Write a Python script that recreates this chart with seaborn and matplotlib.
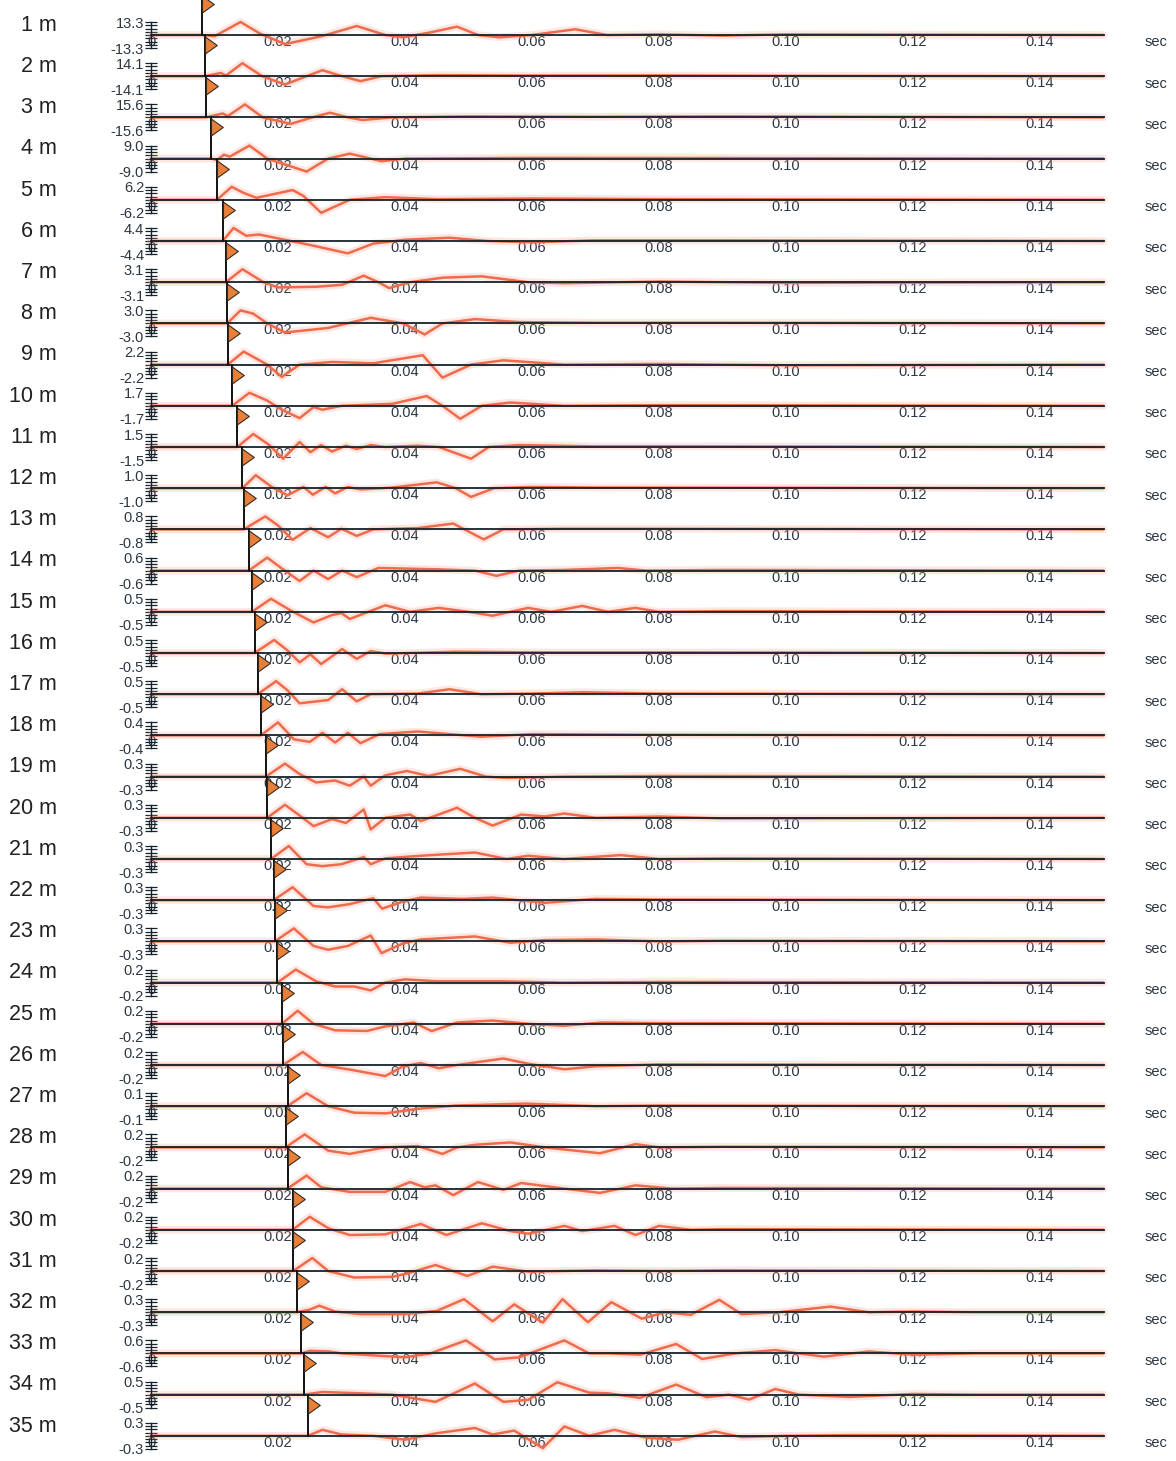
import numpy as np
import pandas as pd
import matplotlib
matplotlib.use("Agg")
import matplotlib.pyplot as plt
import seaborn as sns
from matplotlib.path import Path
from matplotlib.markers import MarkerStyle

# ---------------- data ----------------
depths_m = list(range(1, 36))
peak_amplitude = [13.3, 14.1, 15.6, 9.0, 6.2, 4.4, 3.1, 3.0, 2.2, 1.7, 1.5, 1.0, 0.8,
                  0.6, 0.5, 0.5, 0.5, 0.4, 0.3, 0.3, 0.3, 0.3, 0.3, 0.2, 0.2, 0.2,
                  0.1, 0.2, 0.2, 0.2, 0.2, 0.3, 0.6, 0.5, 0.3]
pick_time_s = [0.0081, 0.0085, 0.0086, 0.0094, 0.0104, 0.0113, 0.0118, 0.0120, 0.0121,
               0.0128, 0.0136, 0.0144, 0.0146, 0.0154, 0.0159, 0.0163, 0.0168, 0.0173,
               0.0181, 0.0183, 0.0189, 0.0193, 0.0195, 0.0199, 0.0206, 0.0208, 0.0215,
               0.0212, 0.0215, 0.0223, 0.0224, 0.0230, 0.0237, 0.0241, 0.0247]
time_ticks = [0.0, 0.02, 0.04, 0.06, 0.08, 0.10, 0.12, 0.14]
time_tick_labels = ["0", "0.02", "0.04", "0.06", "0.08", "0.10", "0.12", "0.14"]
time_unit = "sec"

# waveform keypoints: (time s, amplitude relative to the trace's peak value)
wave_01 = [(0, 0), (0.0081, 0), (0.0100, -0.1), (0.0141, 1.0), (0.0172, 0.1), (0.0211, -0.7),
           (0.0268, -0.1), (0.0324, 0.69), (0.0369, 0), (0.0397, -0.18), (0.0440, 0.2),
           (0.0482, 0.64), (0.0515, 0), (0.0549, -0.18), (0.0600, 0), (0.0668, 0.44),
           (0.0718, 0), (0.080, 0.05), (0.090, -0.05), (0.100, 0.05), (0.150, 0)]
wave_02 = [(0, 0), (0.0085, 0), (0.0110, 0.25), (0.0118, 0.05), (0.0144, 1.0), (0.0175, 0),
           (0.0211, -0.64), (0.0245, 0), (0.0270, 0.46), (0.0301, 0), (0.0330, -0.38),
           (0.0363, 0), (0.045, 0.08), (0.060, 0.05), (0.080, 0.06), (0.100, 0.03), (0.150, 0)]
wave_03 = [(0, 0), (0.0086, 0), (0.0113, 0.3), (0.0121, 0.1), (0.0148, 1.0), (0.0176, 0.0),
           (0.0220, -0.5), (0.0254, 0), (0.0282, 0.36), (0.0310, 0), (0.0333, -0.2),
           (0.0380, 0), (0.050, 0.08), (0.070, 0.05), (0.090, 0.08), (0.150, 0)]
wave_04 = [(0, 0), (0.0094, 0), (0.0104, -0.1), (0.0115, 0.3), (0.0124, 0.15), (0.0155, 1.0),
           (0.0183, 0), (0.0245, -1.0), (0.0279, 0), (0.0313, 0.38), (0.0346, 0),
           (0.0363, -0.2), (0.040, 0), (0.060, 0.06), (0.080, 0.05), (0.150, 0)]
wave_05 = [(0, 0), (0.0104, 0), (0.0127, 1.0), (0.0145, 0.55), (0.0166, 0.15), (0.0223, 0.75),
           (0.0240, 0.3), (0.0268, -1.0), (0.0313, 0), (0.0369, 0.2), (0.045, 0.05),
           (0.060, 0.1), (0.080, 0.05), (0.150, 0)]
wave_06 = [(0, 0), (0.0113, 0), (0.0130, 1.0), (0.0150, 0.4), (0.0170, 0.5), (0.0200, 0.2),
           (0.0250, -0.3), (0.0310, -0.95), (0.0350, -0.2), (0.0400, 0.1), (0.0470, 0.25),
           (0.0530, 0), (0.060, -0.1), (0.070, 0.05), (0.090, 0.05), (0.150, 0)]
wave_07 = [(0, 0), (0.0118, 0), (0.0144, 1.0), (0.0177, 0), (0.0200, -0.4), (0.0260, -0.35),
           (0.0301, -0.2), (0.0335, 0.5), (0.0358, 0), (0.0375, -0.45), (0.0408, 0),
           (0.0460, 0.35), (0.0521, 0.45), (0.0594, 0), (0.065, -0.08), (0.080, 0.05),
           (0.100, -0.05), (0.150, 0)]
wave_08 = [(0, 0), (0.0120, 0), (0.0141, 1.0), (0.0161, 0.75), (0.0183, 0), (0.0211, -0.7),
           (0.0279, -0.35), (0.0346, 0.43), (0.0397, 0), (0.0431, -0.85), (0.0459, 0),
           (0.0510, 0.33), (0.058, 0.1), (0.070, 0.05), (0.090, 0.05), (0.150, 0)]
wave_09 = [(0, 0), (0.0121, 0), (0.0146, 1.0), (0.0183, 0), (0.0206, -0.95), (0.0234, 0),
           (0.0285, 0.2), (0.0350, 0.1), (0.0428, 0.72), (0.0459, -1.0), (0.0504, 0),
           (0.0555, 0.33), (0.0651, 0), (0.080, 0.05), (0.100, -0.05), (0.150, 0)]
wave_10 = [(0, 0), (0.0128, 0), (0.0155, 1.0), (0.0183, 0.4), (0.0206, -0.3), (0.0234, -0.95),
           (0.0256, -0.1), (0.0270, -0.3), (0.0300, 0), (0.0380, 0.15), (0.0434, 0.75),
           (0.0459, 0), (0.0487, -1.0), (0.0521, 0), (0.0566, 0.25), (0.065, 0),
           (0.080, 0.05), (0.150, 0)]
wave_11 = [(0, 0), (0.0136, 0), (0.0161, 1.0), (0.0185, 0.2), (0.0208, -0.9), (0.0234, 0.38),
           (0.0251, -0.4), (0.0268, 0.15), (0.0285, -0.35), (0.0307, 0.1), (0.0324, -0.15),
           (0.0346, 0.15), (0.0369, 0), (0.0420, 0.1), (0.0453, 0), (0.0504, -0.9),
           (0.0532, 0), (0.0580, 0.15), (0.070, 0.05), (0.085, 0.05), (0.150, 0)]
wave_12 = [(0, 0), (0.0144, 0), (0.0165, 1.0), (0.0190, 0.1), (0.0215, -0.55), (0.0240, 0.1),
           (0.0255, -0.5), (0.0275, 0.1), (0.0290, -0.4), (0.0310, 0.1), (0.0330, -0.1),
           (0.0380, 0.05), (0.0450, 0.45), (0.0480, 0), (0.0504, -0.67), (0.0540, 0),
           (0.060, 0.1), (0.070, 0.05), (0.150, 0)]
wave_13 = [(0, 0), (0.0146, 0), (0.0180, 1.0), (0.0200, 0.3), (0.0223, -0.8), (0.0251, 0.1),
           (0.0279, -0.6), (0.0300, 0.05), (0.0324, -0.5), (0.0350, 0), (0.0420, 0.1),
           (0.0476, 0.45), (0.0524, -0.77), (0.0555, 0), (0.065, 0.05), (0.080, 0.05),
           (0.150, 0)]
wave_14 = [(0, 0), (0.0154, 0), (0.0183, 1.0), (0.0205, 0.2), (0.0234, -0.8), (0.0256, 0),
           (0.0279, -0.65), (0.0301, 0), (0.0324, -0.5), (0.0358, 0.2), (0.0450, 0.1),
           (0.0510, 0), (0.0544, -0.4), (0.0580, 0), (0.065, 0.05), (0.0735, 0.2),
           (0.078, 0), (0.090, 0.05), (0.150, 0)]
wave_15 = [(0, 0), (0.0159, 0), (0.0189, 1.0), (0.0220, 0.1), (0.0256, -0.82), (0.0285, -0.25),
           (0.0300, -0.1), (0.0313, -0.55), (0.0369, 0.5), (0.0408, 0), (0.0453, 0.3),
           (0.0500, 0), (0.0538, -0.3), (0.0594, 0.3), (0.0630, 0), (0.0679, 0.45),
           (0.0720, 0), (0.0763, 0.3), (0.080, 0), (0.090, 0.05), (0.150, 0)]
wave_16 = [(0, 0), (0.0163, 0), (0.0194, 1.0), (0.0215, 0.2), (0.0234, -0.72), (0.0251, -0.1),
           (0.0268, -0.85), (0.0301, 0.3), (0.0324, -0.45), (0.0346, 0.15), (0.0370, -0.05),
           (0.0480, 0.1), (0.060, 0.05), (0.080, 0.05), (0.150, 0)]
wave_17 = [(0, 0), (0.0168, 0), (0.0197, 1.0), (0.0215, 0.3), (0.0234, -0.7), (0.0279, -0.45),
           (0.0301, 0.38), (0.0324, -0.55), (0.0346, 0), (0.0420, 0.05), (0.0470, 0.38),
           (0.0520, 0), (0.060, 0.05), (0.068, 0.15), (0.080, 0.05), (0.150, 0)]
wave_18 = [(0, 0), (0.0173, 0), (0.0200, 1.0), (0.0225, -0.3), (0.0250, -0.5), (0.0270, 0.2),
           (0.0290, -0.55), (0.0310, 0.2), (0.0330, -0.6), (0.0360, 0.1), (0.0420, 0.3),
           (0.0470, 0.1), (0.0520, -0.1), (0.060, 0.1), (0.080, 0.05), (0.150, 0)]
wave_19 = [(0, 0), (0.0181, 0), (0.0211, 1.0), (0.0234, 0.2), (0.0260, -0.45), (0.0290, -0.3),
           (0.0313, -0.7), (0.0335, 0), (0.0346, -0.7), (0.0369, 0.1), (0.0403, 0.43),
           (0.0437, 0.05), (0.0487, 0.6), (0.0527, 0), (0.056, -0.1), (0.065, 0),
           (0.080, 0.05), (0.150, 0)]
wave_20 = [(0, 0), (0.0183, 0), (0.0211, 1.0), (0.0239, 0), (0.0256, -0.64), (0.0285, -0.1),
           (0.0307, -0.4), (0.0335, 0.64), (0.0346, -0.9), (0.0369, 0), (0.0408, 0.25),
           (0.0425, -0.25), (0.0482, 0.77), (0.0510, 0), (0.0538, -0.6), (0.0583, 0.25),
           (0.0620, 0.1), (0.0651, 0.33), (0.070, 0), (0.080, 0.1), (0.090, -0.05), (0.150, 0)]
wave_21 = [(0, 0), (0.0189, 0), (0.0217, 1.0), (0.0245, -0.4), (0.0270, -0.55), (0.0300, -0.4),
           (0.0335, 0.15), (0.0346, -0.4), (0.0369, 0.05), (0.0425, 0.25), (0.0510, 0.5),
           (0.0560, 0), (0.0594, 0.25), (0.0650, 0), (0.0740, 0.3), (0.080, 0),
           (0.090, 0.05), (0.150, 0)]
wave_22 = [(0, 0), (0.0193, 0), (0.0223, 1.0), (0.0256, -0.45), (0.0279, -0.55), (0.0313, -0.3),
           (0.0350, 0.15), (0.0364, -0.65), (0.0397, -0.1), (0.0425, 0.2), (0.0490, 0.1),
           (0.0538, 0.2), (0.0620, -0.2), (0.0700, 0.1), (0.080, 0.05), (0.150, 0)]
wave_23 = [(0, 0), (0.0195, 0), (0.0225, 1.0), (0.0256, -0.35), (0.0279, -0.64), (0.0310, -0.35),
           (0.0346, 0.45), (0.0363, -0.9), (0.0397, -0.15), (0.0425, 0.15), (0.0510, 0.38),
           (0.0566, -0.1), (0.0620, 0.1), (0.0700, 0.15), (0.080, 0.0), (0.090, 0.05),
           (0.150, 0)]
wave_24 = [(0, 0), (0.0199, 0), (0.0228, 1.0), (0.0260, 0.1), (0.0290, -0.3), (0.0320, -0.3),
           (0.0346, -0.6), (0.0369, 0), (0.0400, 0.25), (0.0450, 0.1), (0.0550, 0.1),
           (0.065, 0), (0.080, 0.05), (0.150, 0)]
wave_25 = [(0, 0), (0.0206, 0), (0.0231, 1.0), (0.0256, 0), (0.0290, -0.5), (0.0340, -0.55),
           (0.0369, -0.2), (0.0414, 0.1), (0.0442, -0.56), (0.0482, 0.1), (0.0538, 0.25),
           (0.0594, 0), (0.0650, -0.15), (0.0710, 0.1), (0.080, 0.05), (0.150, 0)]
wave_26 = [(0, 0), (0.0208, 0), (0.0239, 1.0), (0.0268, 0), (0.0313, -0.35), (0.0369, -0.85),
           (0.0397, -0.1), (0.0425, 0.15), (0.0453, -0.25), (0.0482, 0), (0.0555, 0.5),
           (0.0594, 0.1), (0.0651, -0.33), (0.0700, -0.1), (0.080, 0.05), (0.150, 0)]
wave_27 = [(0, 0), (0.0215, 0), (0.0245, 1.0), (0.0279, 0), (0.0320, -0.5), (0.0370, -0.55),
           (0.0420, -0.2), (0.0480, 0.05), (0.0590, 0.2), (0.0700, 0), (0.080, 0.05), (0.150, 0)]
wave_28 = [(0, 0), (0.0212, 0), (0.0242, 1.0), (0.0279, -0.25), (0.0313, -0.5), (0.0340, -0.25),
           (0.0369, 0), (0.0420, 0.1), (0.0459, -0.5), (0.0482, 0), (0.0510, 0.2),
           (0.0566, 0.38), (0.0620, 0), (0.0707, -0.45), (0.0763, 0.25), (0.080, 0),
           (0.090, 0.05), (0.150, 0)]
wave_29 = [(0, 0), (0.0215, 0), (0.0245, 1.0), (0.0268, 0.1), (0.0313, -0.25), (0.0369, -0.25),
           (0.0408, 0.5), (0.0431, 0.1), (0.0448, 0.25), (0.0476, -0.5), (0.0515, 0.5),
           (0.0555, -0.1), (0.0583, 0.43), (0.0651, 0), (0.0707, -0.33), (0.0763, 0.25),
           (0.082, 0), (0.090, 0.05), (0.150, 0)]
wave_30 = [(0, 0), (0.0223, 0), (0.0250, 1.0), (0.0280, 0.1), (0.0313, -0.4), (0.0369, -0.35),
           (0.0425, 0.45), (0.0465, -0.4), (0.0521, 0.5), (0.0566, -0.1), (0.0594, -0.3),
           (0.0651, 0.3), (0.0679, -0.1), (0.0730, 0.3), (0.0763, -0.4), (0.0800, 0.3),
           (0.085, 0), (0.090, 0.05), (0.150, 0)]
wave_31 = [(0, 0), (0.0224, 0), (0.0254, 1.0), (0.0279, 0), (0.0320, -0.5), (0.0380, -0.45),
           (0.0403, -0.2), (0.0448, 0.46), (0.0498, -0.38), (0.0538, 0.33), (0.0594, -0.05),
           (0.070, 0.05), (0.080, 0), (0.090, 0.05), (0.150, 0)]
wave_32 = [(0, 0), (0.0230, 0), (0.0250, 0.2), (0.0265, 0.5), (0.0290, 0.05), (0.0330, -0.15),
           (0.0400, -0.15), (0.0450, 0.1), (0.0493, 1.0), (0.0538, -0.7), (0.0572, 0.6),
           (0.0617, -0.8), (0.0648, 1.0), (0.0688, -0.77), (0.0725, 0.77), (0.0773, -0.5),
           (0.0810, 0.0), (0.0850, -0.2), (0.0895, 0.95), (0.0930, -0.15), (0.0990, 0),
           (0.1070, 0.43), (0.1130, 0), (0.120, 0.05), (0.130, 0), (0.150, 0)]
wave_33 = [(0, 0), (0.0237, 0), (0.0250, 0.2), (0.0280, 0.15), (0.0300, 0), (0.0400, -0.3),
           (0.0440, 0), (0.0496, 1.0), (0.0541, -0.46), (0.0580, -0.3), (0.0651, 1.0),
           (0.0690, 0), (0.0720, 0), (0.0770, -0.1), (0.0827, 0.72), (0.0868, -0.43),
           (0.0920, 0), (0.0983, 0.25), (0.1020, 0), (0.1060, -0.25), (0.1130, 0.15),
           (0.1200, -0.1), (0.130, 0), (0.150, 0)]
wave_34 = [(0, 0), (0.0241, 0), (0.0270, 0.2), (0.0330, 0.1), (0.0380, 0), (0.0448, -0.56),
           (0.0510, 0.85), (0.0555, -0.56), (0.0594, -0.4), (0.0640, 0.95), (0.0690, 0.15),
           (0.0720, 0.1), (0.0770, -0.25), (0.0827, 0.77), (0.0875, -0.2), (0.0910, 0),
           (0.0942, -0.38), (0.0983, 0.43), (0.1020, 0), (0.1100, -0.18), (0.1200, 0.05),
           (0.130, 0), (0.150, 0)]
wave_35 = [(0, 0), (0.0247, 0), (0.0270, 0.46), (0.0300, 0.1), (0.0350, 0), (0.0400, -0.3),
           (0.0450, 0.2), (0.0510, 0.6), (0.0538, 0.1), (0.0572, 0.4), (0.0617, -0.95),
           (0.0651, 0.72), (0.0690, 0), (0.0730, 0.46), (0.0780, -0.15), (0.0830, -0.3),
           (0.0888, 0.33), (0.0930, -0.1), (0.1000, 0), (0.110, 0.05), (0.150, 0)]

waves = [wave_01, wave_02, wave_03, wave_04, wave_05, wave_06, wave_07, wave_08, wave_09,
         wave_10, wave_11, wave_12, wave_13, wave_14, wave_15, wave_16, wave_17, wave_18,
         wave_19, wave_20, wave_21, wave_22, wave_23, wave_24, wave_25, wave_26, wave_27,
         wave_28, wave_29, wave_30, wave_31, wave_32, wave_33, wave_34, wave_35]

# ---------------- style / layout ----------------
sns.set_theme(style="white")
plt.rcParams["font.family"] = ["Liberation Sans", "DejaVu Sans"]
plt.rcParams["axes.unicode_minus"] = False

W, H, DPI = 1176, 1461, 100
ROW0, ROW_STEP, HALF = 35.0, 41.2, 13.0   # px
X0, X1 = 151.0, 1103.5                     # px of t=0 and t=0.15
TICK_COLOR = "#2b3642"
WAVE_COLOR = "#ee6b4b"
HALO_COLOR = "#f5a08c"
AXIS_COLOR = "#15222a"
FLAG_FILL = "#e9803a"
TICK_FS = 10.5

tri_path = Path([(0, -1), (1.4, 0), (0, 1), (0, -1)],
                [Path.MOVETO, Path.LINETO, Path.LINETO, Path.CLOSEPOLY])
tri_marker = MarkerStyle(tri_path)

fig = plt.figure(figsize=(W / DPI, H / DPI), dpi=DPI)
fig.patch.set_facecolor("white")

for i, (depth, peak, pick, wave) in enumerate(zip(depths_m, peak_amplitude, pick_time_s, waves)):
    b = ROW0 + ROW_STEP * i
    ax = fig.add_axes([X0 / W, 1 - (b + HALF) / H, (X1 - X0) / W, 2 * HALF / H])
    ax.patch.set_visible(False)

    df = pd.DataFrame(wave, columns=["t", "rel"])
    df["amp"] = df["rel"] * peak
    sns.lineplot(data=df, x="t", y="amp", ax=ax, color=HALO_COLOR, linewidth=5.5,
                 alpha=0.25, sort=False, estimator=None, legend=False)
    sns.lineplot(data=df, x="t", y="amp", ax=ax, color=WAVE_COLOR, linewidth=1.8,
                 sort=False, estimator=None, legend=False)
    for ln in ax.lines:
        ln.set_clip_on(False)
        ln.set_solid_joinstyle("round")
        ln.set_solid_capstyle("round")

    ax.set_xlim(0, 0.15)
    ax.set_ylim(-peak, peak)
    ax.set_xlabel("")
    ax.set_ylabel("")

    for s in ("top", "right"):
        ax.spines[s].set_visible(False)
    ax.spines["bottom"].set_position("zero")
    ax.spines["bottom"].set_color(AXIS_COLOR)
    ax.spines["bottom"].set_linewidth(1.3)
    ax.spines["bottom"].set_zorder(3)
    ax.spines["left"].set_color(AXIS_COLOR)
    ax.spines["left"].set_linewidth(1.0)

    ax.set_xticks(time_ticks)
    ax.set_xticklabels(time_tick_labels)
    ax.tick_params(axis="x", length=0, pad=0.0, labelsize=TICK_FS, labelcolor=TICK_COLOR)

    ax.set_yticks([-peak, peak])
    ax.set_yticklabels([f"{-peak:.1f}", f"{peak:.1f}"])
    ax.set_yticks(np.linspace(-peak, peak, 9), minor=True)
    ax.tick_params(axis="y", which="both", direction="inout", length=8, width=0.9,
                   color=AXIS_COLOR, left=True, pad=1, labelsize=TICK_FS, labelcolor=TICK_COLOR)

    # first-break pick marker
    tr = ax.get_xaxis_transform()
    top_frac = 0.5 + ROW_STEP / (2 * HALF)
    ax.plot([pick, pick], [0.5, top_frac], transform=tr, color="#111111", lw=1.4,
            clip_on=False, zorder=4)
    ax.plot([pick], [0.5 + (ROW_STEP - 10) / (2 * HALF)], transform=tr, marker=tri_marker,
            ms=17, mfc=FLAG_FILL, mec="#3a2a1e", mew=0.8, clip_on=False, zorder=5,
            linestyle="none")

    fig.text(57 / W, 1 - (b - 4.3) / H, f"{depth} m", ha="right", va="baseline",
             fontsize=15.5, color="#222222")
    fig.text(1156 / W, 1 - (b + 7.5) / H, time_unit, ha="center", va="center",
             fontsize=TICK_FS, color=TICK_COLOR)

fig.savefig("out.png", dpi=DPI, facecolor="white")
